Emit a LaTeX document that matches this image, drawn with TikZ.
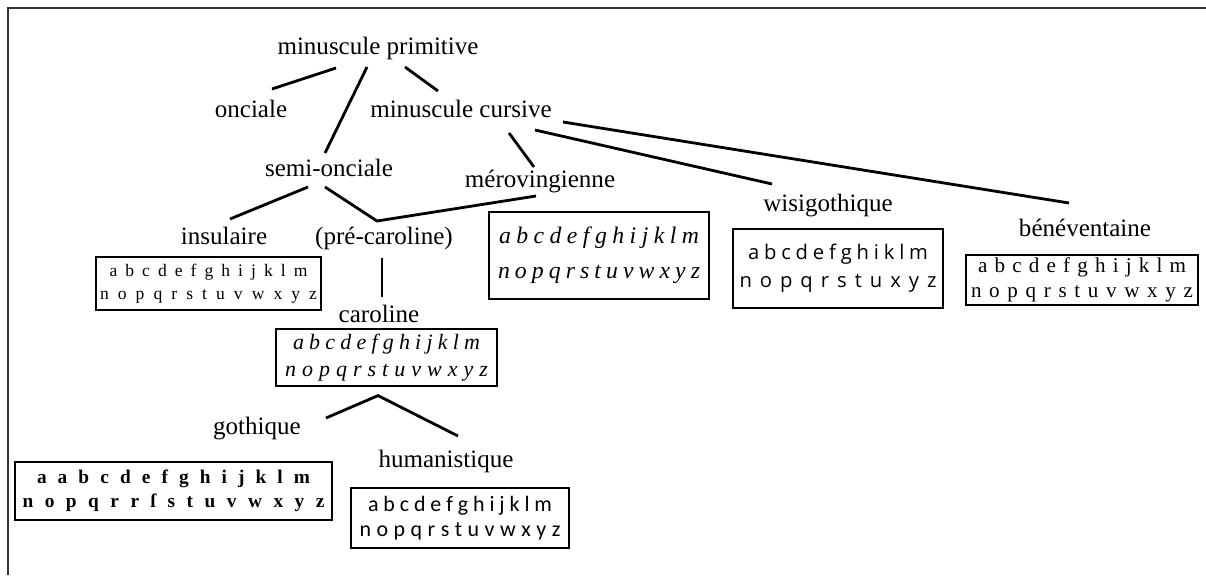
\documentclass[tikz,border=0pt]{standalone}
\usepackage{fontspec}
\setmainfont{Liberation Serif}
\newfontfamily\wisfont{Open Sans}
\newfontfamily\humfont{Carlito}
\usetikzlibrary{calc}
\newlength\px
\setlength\px{0.02cm}
\newcommand\alrow[2]{\makebox[#1\px][s]{#2}}

\begin{document}
\begin{tikzpicture}[x=0.02cm,y=-0.02cm,
    label/.style={font=\fontsize{14.25}{17}\selectfont,inner sep=0pt,text height=0.7em,text depth=0.22em},
    link/.style={line width=1.6pt},
    abox/.style={draw,line width=0.7pt,inner sep=0pt,align=center}]
      % Frame
      \useasboundingbox (0,0) rectangle (1206,575);
      \draw[line width=0.7pt,black!80] (8,575) -- (8,8) -- (1206,8);
      % Script names
      \node[label] (minprim) at (378,50) {minuscule primitive};
      \node[label] (onciale) at (251,113) {onciale};
      \node[label] (mincurs) at (461,113) {minuscule cursive};
      \node[label] (semionc) at (329,172) {semi-onciale};
      \node[label] (merov) at (540,183) {mérovingienne};
      \node[label] (insul) at (224,240) {insulaire};
      \node[label] (precar) at (384,240) {(pré-caroline)};
      \node[label] (wisig) at (828,207) {wisigothique};
      \node[label] (bene) at (1085,232) {bénéventaine};
      \node[label] (carol) at (379,318) {caroline};
      \node[label] (goth) at (257,430) {gothique};
      \node[label] (human) at (446,463) {humanistique};
      % Alphabets
      \node[abox,minimum width=4.5cm,minimum height=1.06cm,font=\fontsize{10}{13}\selectfont] (insulbox) at (208.5,283.5)
        {\alrow{198}{a b c d e f g h i j k l m}\\\alrow{217}{n o p q r s t u v w x y z}};
      \node[abox,minimum width=4.4cm,minimum height=1.74cm,font=\fontsize{13.5}{20}\selectfont\itshape] (merovbox) at (599,255.5)
        {\alrow{200}{a b c d e f g h i j k l m}\\\alrow{202}{n o p q r s t u v w x y z}};
      \node[abox,minimum width=4.2cm,minimum height=1.58cm,font=\fontsize{11.5}{16}\selectfont\wisfont] (wisigbox) at (838,268.5)
        {\alrow{180}{a b c d e f g h i k l m}\\\alrow{197}{n o p q r s t u x y z}};
      \node[abox,minimum width=4.64cm,minimum height=1cm,font=\fontsize{12}{14}\selectfont] (benebox) at (1082,280)
        {\alrow{208}{a b c d e f g h i j k l m}\\\alrow{222}{n o p q r s t u v w x y z}};
      \node[abox,minimum width=4.42cm,minimum height=1.14cm,font=\fontsize{12.5}{15.4}\selectfont\itshape] (carolbox) at (386.5,357.5)
        {\alrow{187}{a b c d e f g h i j k l m}\\\alrow{203}{n o p q r s t u v w x y z}};
      \node[abox,minimum width=6.34cm,minimum height=1.16cm,font=\fontsize{11}{13.7}\selectfont\bfseries] (gothbox) at (173.5,491)
        {\alrow{273}{a a b c d e f g h i j k l m}\\\alrow{302}{n o p q r r ſ s t u v w x y z}};
      \node[abox,minimum width=4.36cm,minimum height=1.2cm,font=\fontsize{12.5}{14.2}\selectfont\humfont] (humanbox) at (460,518)
        {\alrow{184}{a b c d e f g h i j k l m}\\\alrow{201}{n o p q r s t u v w x y z}};
      % Links
      \draw[link] ($(minprim)+(-42,18)$) -- ($(onciale)+(21,-24)$);
      \draw[link] ($(minprim)+(-11,17)$) -- ($(semionc)+(-4,-19)$);
      \draw[link] ($(minprim)+(27,17)$) -- ($(mincurs)+(-23,-22)$);
      \draw[link] ($(mincurs)+(48,20)$) -- ($(merov)+(-6,-16)$);
      \draw[link] ($(mincurs)+(74,17)$) -- ($(wisig)+(-56,-23)$);
      \draw[link] ($(mincurs)+(102,9)$) -- ($(bene)+(-16,-29)$);
      \draw[link] ($(semionc)+(-21,15)$) -- ($(insul)+(6,-21)$);
      \coordinate (join) at ($(precar)+(-7,-19)$);
      \draw[link] ($(semionc)+(-4,15)$) -- (join) -- ($(merov)+(-4,13)$);
      \draw[link] ($(precar)+(-2,18)$) -- ($(carol)+(3,-21)$);
      \coordinate (split) at ($(carolbox.south)+(-8.5,9)$);
      \draw[link] ($(goth)+(69,-12)$) -- (split) -- ($(human)+(12,-27)$);
    \end{tikzpicture}
\end{document}
